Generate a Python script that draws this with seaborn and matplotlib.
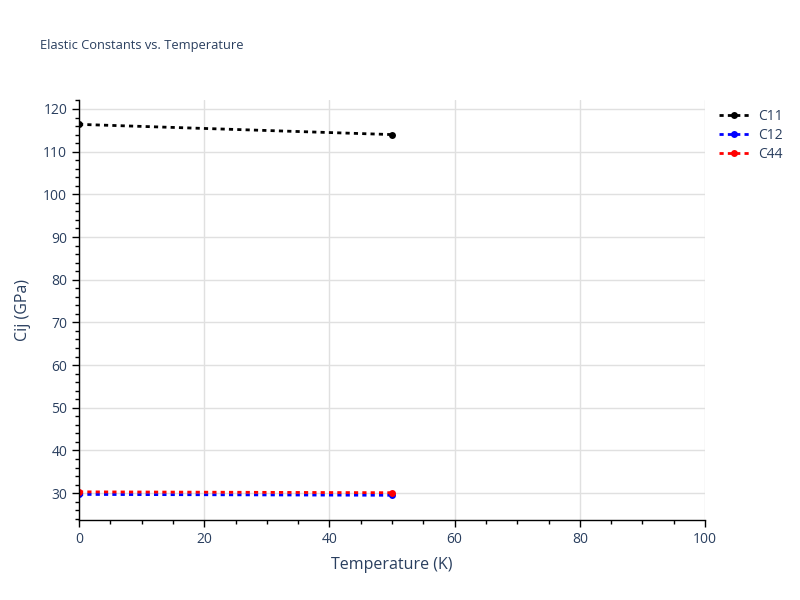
import pandas as pd
import matplotlib.pyplot as plt
import seaborn as sns
from matplotlib.ticker import MultipleLocator

temperature = [0, 50]
c11 = [116.4, 114.0]
c12 = [29.7, 29.5]
c44 = [30.3, 30.1]
series_names = ['C11', 'C12', 'C44']
series_colors = ['black', 'blue', 'red']

df = pd.DataFrame({
    'Temperature': temperature * 3,
    'Cij': c11 + c12 + c44,
    'Series': [n for n in series_names for _ in temperature],
})

sns.set_style('white')
plt.rcParams['font.family'] = ['Open Sans', 'DejaVu Sans']
text_color = '#2a3f5f'

fig = plt.figure(figsize=(8, 6), dpi=100)
ax = fig.add_axes([0.09875, 0.1333, 0.7825, 0.7])

sns.lineplot(data=df, x='Temperature', y='Cij', hue='Series',
             palette=dict(zip(series_names, series_colors)),
             marker='o', markersize=5, markeredgewidth=0,
             linewidth=2, ax=ax, legend=False)
for line in ax.lines:
    line.set_dashes([1.5, 1.5])

ax.set_xlim(0, 100)
ax.set_ylim(23.7, 122.1)
ax.xaxis.set_major_locator(MultipleLocator(20))
ax.xaxis.set_minor_locator(MultipleLocator(5))
ax.yaxis.set_major_locator(MultipleLocator(10))
ax.yaxis.set_minor_locator(MultipleLocator(2))
ax.tick_params(which='both', direction='out', color='black', left=True, bottom=True)
ax.tick_params(which='major', length=5, width=1, labelsize=10, labelcolor=text_color)
ax.tick_params(which='minor', length=3, width=1)
ax.grid(True, which='major', color='#e0e0e0', linewidth=1)
ax.set_axisbelow(True)
for side in ['top', 'right']:
    ax.spines[side].set_visible(False)
for side in ['left', 'bottom']:
    ax.spines[side].set_color('black')
    ax.spines[side].set_linewidth(1)

ax.set_xlabel('Temperature (K)', fontsize=11.5, color=text_color, labelpad=7)
ax.set_ylabel('Cij (GPa)', fontsize=11.5, color=text_color, labelpad=9)

handles = [plt.Line2D([], [], color=c, marker='o', markersize=5, dashes=[1.5, 1.5],
                      linewidth=2, markeredgewidth=0) for c in series_colors]
leg = fig.legend(handles, series_names, loc='upper left', bbox_to_anchor=(0.883, 0.84),
                 frameon=False, fontsize=10, handlelength=2.2, labelspacing=0.3,
                 handletextpad=0.6)
for t in leg.get_texts():
    t.set_color(text_color)

fig.text(0.05, 0.918, 'Elastic Constants vs. Temperature', fontsize=9.3, color=text_color)

fig.savefig('out.png', dpi=100)
